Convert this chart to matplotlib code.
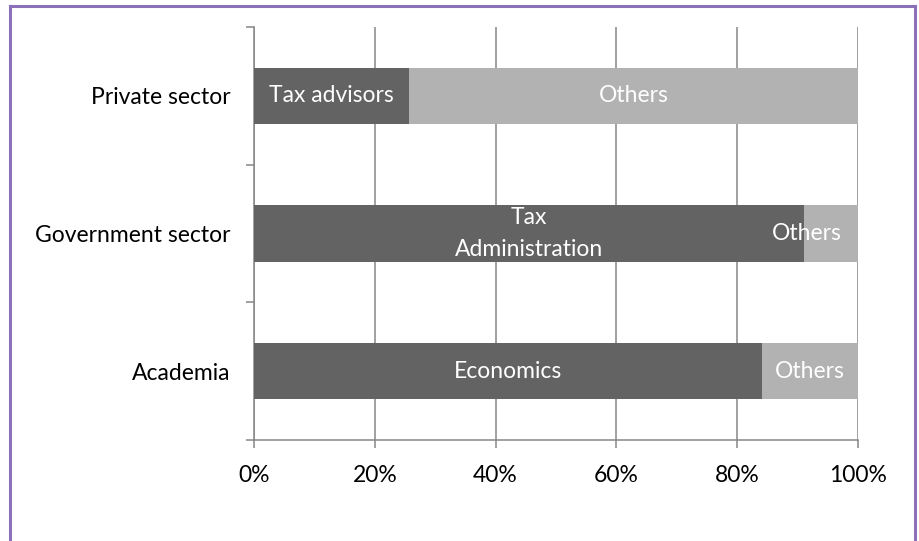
import matplotlib
matplotlib.use("Agg")
import matplotlib.pyplot as plt

categories = ["Academia", "Government sector", "Private sector"]
main_labels = ["Economics", "Tax\nAdministration", "Tax advisors"]
main_share = [84.1, 91.1, 25.7]
other_share = [15.9, 8.9, 74.3]
other_label = "Others"
# the government "Others" label does not fit its segment, so it is shifted left
other_label_shift = [0, -4, 0]

plt.rcParams["font.family"] = ["Lato", "DejaVu Sans"]

dark = "#636363"
light = "#b2b2b2"
grid_col = "#868686"
fs = 16.5

fig = plt.figure(figsize=(9.19, 5.41), dpi=100)
ax = fig.add_axes([0.2764, 0.1867, 0.6572, 0.7633])

y = list(range(len(categories)))
ax.barh(y, main_share, height=0.41, color=dark, zorder=3)
ax.barh(y, other_share, left=main_share, height=0.41, color=light, zorder=3)

for i in y:
    ax.text(main_share[i] / 2, i, main_labels[i], ha="center", va="center",
            color="white", fontsize=fs, zorder=4, linespacing=1.6)
    x_other = main_share[i] + other_share[i] / 2 + other_label_shift[i]
    ax.text(x_other, i, other_label, ha="center", va="center",
            color="white", fontsize=fs, zorder=4)

ax.set_xlim(0, 100)
ax.set_ylim(-0.5, 2.5)
ax.set_xticks([0, 20, 40, 60, 80, 100])
ax.set_xticklabels([f"{v}%" for v in [0, 20, 40, 60, 80, 100]])
ax.set_yticks(y)
ax.set_yticklabels(categories)
ax.set_yticks([-0.5, 0.5, 1.5, 2.5], minor=True)
ax.tick_params(axis="y", which="major", length=0, pad=17, labelsize=fs)
ax.tick_params(axis="y", which="minor", length=6, width=1.1, color=grid_col, direction="out")
ax.tick_params(axis="x", length=6, width=1.1, color=grid_col, pad=12, labelsize=fs)

ax.grid(axis="x", color=grid_col, linewidth=1.1, zorder=0)
ax.set_axisbelow(True)
for s in ["top", "right"]:
    ax.spines[s].set_visible(False)
for s in ["left", "bottom"]:
    ax.spines[s].set_color(grid_col)
    ax.spines[s].set_linewidth(1.1)

# purple frame around the chart area (no bottom edge)
frame_col = "#8c70b8"
fig.add_artist(plt.Line2D([0.0109, 0.0109], [0, 0.9889], transform=fig.transFigure, color=frame_col, lw=2.2))
fig.add_artist(plt.Line2D([0.0109, 0.9957], [0.9889, 0.9889], transform=fig.transFigure, color=frame_col, lw=2.2))
fig.add_artist(plt.Line2D([0.9957, 0.9957], [0, 0.9889], transform=fig.transFigure, color=frame_col, lw=2.2))

fig.savefig("out.png", dpi=100)
